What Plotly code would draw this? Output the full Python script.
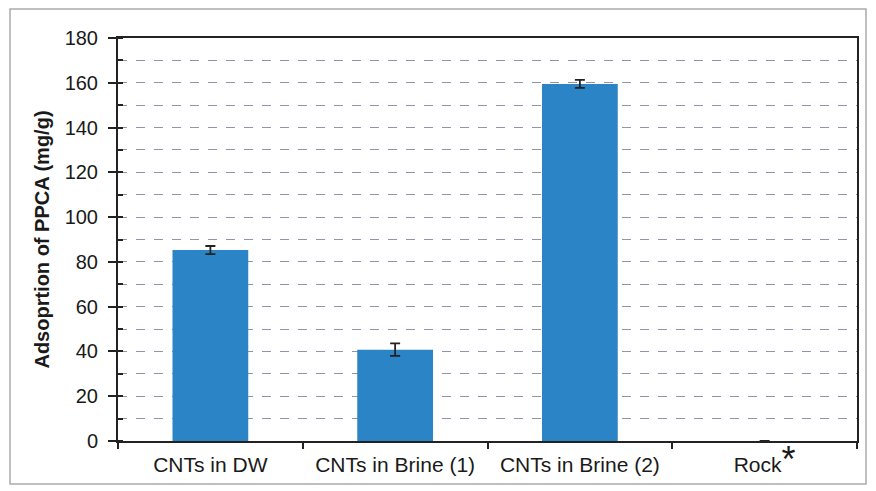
import plotly.graph_objects as go

categories = ["CNTs in DW", "CNTs in Brine (1)", "CNTs in Brine (2)", "Rock"]
tick_labels = ["CNTs in DW", "CNTs in Brine (1)", "CNTs in Brine (2)",
               "Rock<span style=\"font-size:36px\">*</span>"]
adsorption = [85.3, 40.8, 159.5, 0.0]
errors = [1.8, 2.8, 1.8, 0.0]

fig = go.Figure()
fig.add_trace(go.Bar(
    x=categories, y=adsorption,
    marker=dict(color="#2b84c5", line=dict(width=0)),
    error_y=dict(type="data", array=errors, color="#222", thickness=1.8, width=5),
    showlegend=False,
))

# page body has an 8px margin, so the figure is shifted by 8px right and down
fig.update_layout(
    width=868, height=483,
    margin=dict(l=110, r=19, t=30, b=50),
    paper_bgcolor="white", plot_bgcolor="white",
    bargap=0.59,
    font=dict(family="Liberation Sans, Arial, sans-serif", color="#1a1a1a", size=18),
    xaxis=dict(
        tickmode="array", tickvals=categories, ticktext=tick_labels,
        tickson="boundaries", ticks="outside", ticklen=6, tickwidth=2, tickcolor="#222",
        showline=True, linecolor="#222", linewidth=2, mirror=True,
        showgrid=False, tickfont=dict(size=21), ticklabelstandoff=4,
    ),
    yaxis=dict(
        range=[0, 180], dtick=20, tick0=0,
        ticks="outside", ticklen=8, tickwidth=2, tickcolor="#222",
        showline=True, linecolor="#222", linewidth=2, mirror=True,
        showgrid=True, gridcolor="#8f94aa", griddash="dash", gridwidth=1,
        minor=dict(dtick=10, showgrid=True, gridcolor="#8f94aa", griddash="dash",
                   ticks="inside", ticklen=5, tickcolor="#222", gridwidth=1),
        zeroline=False,
        tickfont=dict(size=20),
        ticklabelstandoff=6,
        title=dict(text="<b>Adsoprtion of PPCA (mg/g)</b>", font=dict(size=20), standoff=10),
    ),
    shapes=[dict(type="rect", xref="paper", yref="paper",
                 x0=(10 - 118) / 739, x1=(866 - 118) / 739,
                 y0=(441 - 484) / 403, y1=(441 - 9) / 403,
                 line=dict(color="#aaa", width=1.5), layer="below")],
)

fig.write_html("out.html")
